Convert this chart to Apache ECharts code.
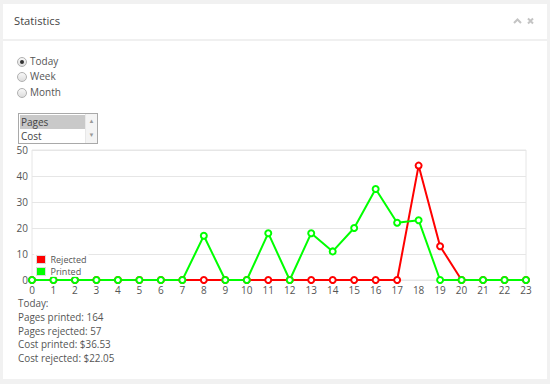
<!DOCTYPE html>
<html><head><meta charset="utf-8">
<script src="https://cdn.jsdelivr.net/npm/echarts@6/dist/echarts.min.js"></script>
<style>
html,body{margin:0;padding:0;width:550px;height:384px;background:#f1f1f1;overflow:hidden;font-family:"Open Sans",sans-serif;}
#panel{position:absolute;left:3px;top:4px;width:544px;height:375px;background:#fff;}
#hdr{position:absolute;left:0;top:0;width:544px;height:35px;border-bottom:2px solid #f0f0f0;}
#title{position:absolute;left:11px;top:9px;font-size:11.2px;color:#444;}
#icons{position:absolute;left:510px;top:13px;}
.radio{position:absolute;left:14px;font-size:10px;color:#555;height:14px;line-height:14px;}
.radio span.c{position:absolute;left:0;top:2px;width:8px;height:8px;border-radius:50%;border:1px solid #b0b0b0;background:linear-gradient(#f8f8f8,#ddd);}
.radio span.c.on:after{content:"";position:absolute;left:2px;top:2px;width:4px;height:4px;border-radius:50%;background:#333;}
.radio span.t{position:absolute;left:13px;top:-1px;white-space:nowrap;}
#sel{position:absolute;left:15px;top:109px;width:78px;height:29px;border:1px solid #a9a9a9;font-size:10px;color:#444;}
#sel .o{position:absolute;left:1px;width:66px;height:14px;line-height:14px;padding-left:1px;}
#sel .sb{position:absolute;right:0;top:0;width:11px;height:29px;background:#f4f4f4;border-left:1px solid #e8e8e8;font-size:6px;color:#999;text-align:center;}
#stats{position:absolute;left:15px;top:293px;font-size:9.9px;color:#555;line-height:13.8px;}
#chart{position:absolute;left:0;top:0;width:550px;height:384px;}
</style></head>
<body>
<div id="panel">
 <div id="hdr"><div id="title">Statistics</div>
  <svg id="icons" width="26" height="8" viewBox="0 0 26 8"><path d="M1,6 L4.5,2.5 L8,6" stroke="#c4c4c4" stroke-width="2" fill="none"/><path d="M15,1.5 L20,6.5 M20,1.5 L15,6.5" stroke="#c4c4c4" stroke-width="2" fill="none"/></svg>
 </div>
 <div class="radio" style="top:51px"><span class="c on"></span><span class="t">Today</span></div>
 <div class="radio" style="top:66px"><span class="c"></span><span class="t">Week</span></div>
 <div class="radio" style="top:82px"><span class="c"></span><span class="t">Month</span></div>
 <div id="sel"><div class="o" style="top:1px;background:#c9c9c9">Pages</div><div class="o" style="top:15px">Cost</div><div class="sb"><div style="margin-top:3px">▲</div><div style="margin-top:6px">▼</div></div></div>
 <div id="stats">Today:<br>Pages printed: 164<br>Pages rejected: 57<br>Cost printed: $36.53<br>Cost rejected: $22.05</div>
</div>
<div id="chart"></div>
<script>
const hours = ['0','1','2','3','4','5','6','7','8','9','10','11','12','13','14','15','16','17','18','19','20','21','22','23'];
const rejected = [0,0,0,0,0,0,0,0,0,0,0,0,0,0,0,0,0,0,44,13,0,0,0,0];
const printed  = [0,0,0,0,0,0,0,0,17,0,0,18,0,18,11,20,35,22,23,0,0,0,0,0];
const yTicks = [0,10,20,30,40,50];

const chart = echarts.init(document.getElementById('chart'), null, {renderer:'svg'});
function ser(name, data, color){
  return {name, type:'line', data, symbol:'circle', symbolSize:6, showSymbol:true,
    lineStyle:{color, width:2}, itemStyle:{color:'#fff', borderColor:color, borderWidth:2},
    emphasis:{disabled:true}, animation:false};
}
chart.setOption({
  animation:false,
  grid:{left:32, right:24, top:150, bottom:104, show:true, borderColor:'#e6e6e6', borderWidth:1, containLabel:false},
  legend:{orient:'vertical', left:34, top:254, itemWidth:9, itemHeight:8, itemGap:3,
    textStyle:{fontSize:9, color:'#555', fontFamily:'Open Sans'}, backgroundColor:'rgba(255,255,255,0.85)', padding:[1,2],
    data:[{name:'Rejected', icon:'rect', itemStyle:{color:'#ff0000', borderColor:'#ddd', borderWidth:1}},{name:'Printed', icon:'rect', itemStyle:{color:'#00ff00', borderColor:'#ddd', borderWidth:1}}], selectedMode:false},
  xAxis:{type:'category', data:hours, boundaryGap:false,
    axisLine:{show:false}, axisTick:{show:false}, splitLine:{show:false},
    axisLabel:{color:'#555', fontSize:10, margin:5, fontFamily:'Open Sans', interval:0}},
  yAxis:{type:'value', min:0, max:50, interval:10,
    axisLine:{show:false}, axisTick:{show:false},
    splitLine:{lineStyle:{color:'#e6e6e6', width:1}},
    axisLabel:{color:'#555', fontSize:10, margin:4, fontFamily:'Open Sans',
      formatter:v=>yTicks.includes(v)?String(v):''}},
  series:[ser('Rejected', rejected, '#ff0000'), ser('Printed', printed, '#00ff00')]
});
</script>
</body></html>
